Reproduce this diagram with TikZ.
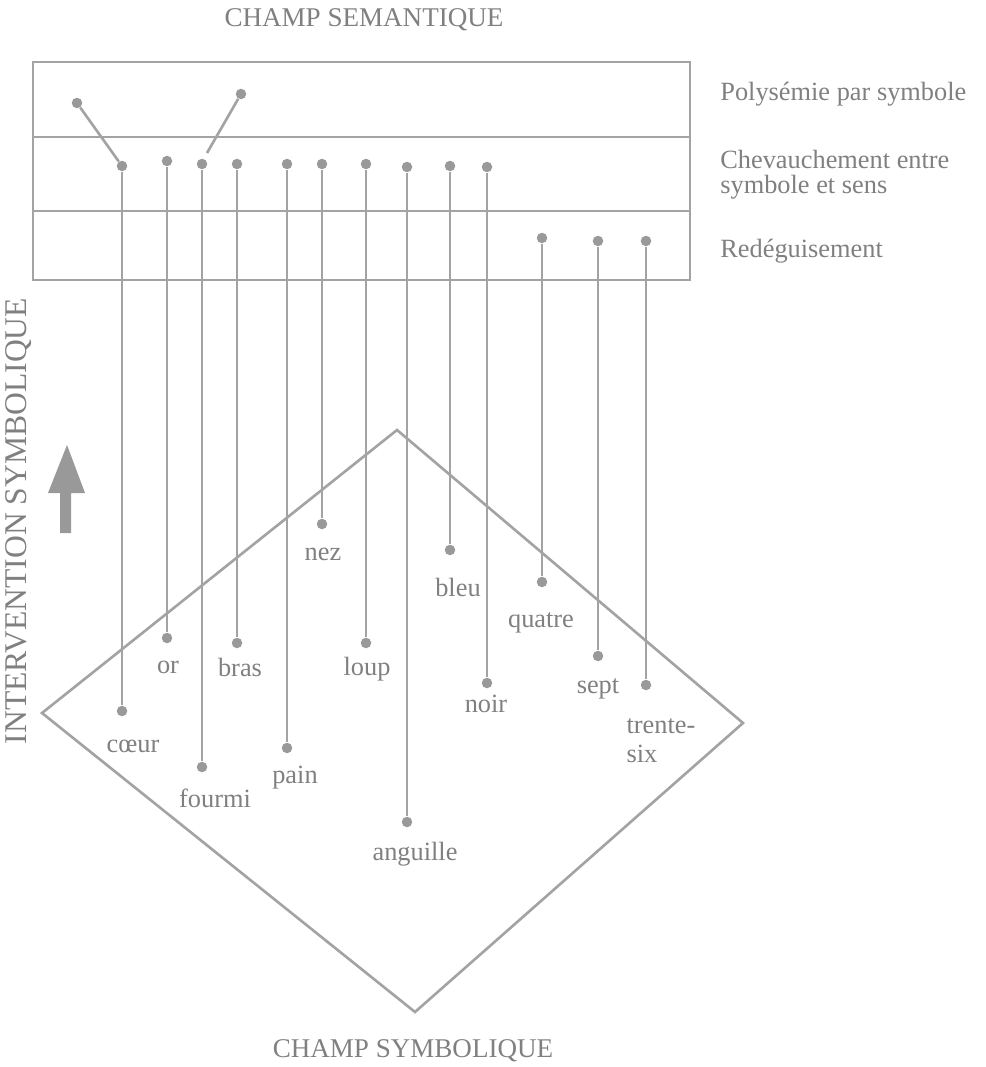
\documentclass[tikz,border=0pt]{standalone}
\usepackage{fontspec}
\setmainfont{Liberation Serif}
\definecolor{gristrait}{gray}{0.64}
\definecolor{gristete}{gray}{0.6}
\definecolor{grisencre}{gray}{0.5}

\begin{document}
\begin{tikzpicture}[x=0.02cm,y=-0.02cm,
    trait/.style={draw=gristrait,line width=1.5pt},
    tete/.style={circle,fill=gristete,inner sep=0pt,minimum size=0.21cm},
    mot/.style={text=grisencre,inner sep=0pt,font=\fontsize{15}{14.2}\selectfont},
    titre/.style={mot,font=\fontsize{15.4}{16}\selectfont}]
    \useasboundingbox (0,0) rectangle (985,1067);

    % Champ semantique:
    % un cadre coupe en trois rangees, les noms des rangees a droite
    \draw[trait] (33,62) rectangle (690,280);
    \draw[trait] (33,137) -- (690,137);
    \draw[trait] (33,211) -- (690,211);
    \node[titre,anchor=base] (semantique) at (364,27) {CHAMP SEMANTIQUE};
    \node[mot,anchor=base west] (polysemie) at (720,101) {Polysémie par symbole};
    \node[mot,anchor=north west,align=left] (chevauchement) at (720,150) {Chevauchement entre\\symbole et sens};
    \node[mot,anchor=base west] (redeguisement) at (720,257) {Redéguisement};

    % Champ symbolique: le losange
    \coordinate (sommet) at (397,430);
    \coordinate (droite) at (743,723);
    \coordinate (pointe) at (415,1012);
    \coordinate (gauche) at (42,713);
    \draw[trait] (sommet) -- (droite) -- (pointe) -- (gauche) -- cycle;
    \node[titre,anchor=base] (symbolique) at (413,1057) {CHAMP SYMBOLIQUE};

    % Intervention symbolique: texte vertical et grosse fleche
    \node[mot,rotate=90,font=\fontsize{18}{18}\selectfont] (intervention) at (19,521) {INTERVENTION SYMBOLIQUE};
    \fill[gristete] (67,445) -- (85,493) -- (71,493) -- (71,533) -- (60,533) -- (60,493) -- (48,493) -- cycle;

    % Les symboles: une tete en haut, une tete en bas, le mot dessous
    \foreach \n/\x/\yh/\yb/\lx/\ly/\t in {
        coeur/122/166/711/133/752/cœur, or/167/161/638/168/673/or,
        fourmi/202/164/767/215/807/fourmi, bras/237/164/643/240/676/bras,
        pain/287/164/748/295/783/pain, nez/322/164/524/323/560/nez,
        loup/366/164/643/367/675/loup, anguille/407/167/822/415/860/anguille,
        bleu/450/166/550/458/596/bleu, noir/487/167/683/486/712/noir,
        quatre/542/238/582/541/627/quatre, sept/598/241/656/598/693/sept,
        trentesix/646/241/685/661/733/trente-}
    {
        \node[tete] (\n-h) at (\x,\yh) {};
        \node[tete] (\n-b) at (\x,\yb) {};
        \draw[trait] (\n-h) -- (\n-b);
        \node[mot,anchor=base] (\n-mot) at (\lx,\ly) {\t};
    }
    \node[mot,anchor=base west] (six) at (trentesix-mot.base west |- 0,762) {six};

    % Polysemie: deux branches montent dans la premiere rangee
    \node[tete] (coeur-p) at (77,103) {};
    \draw[trait] (coeur-p) -- (coeur-h);
    \node[tete] (fourmi-p) at (241,94) {};
    \coordinate (fourmi-q) at (207,153);
    \draw[trait] (fourmi-q) -- (fourmi-p);
\end{tikzpicture}
\end{document}
